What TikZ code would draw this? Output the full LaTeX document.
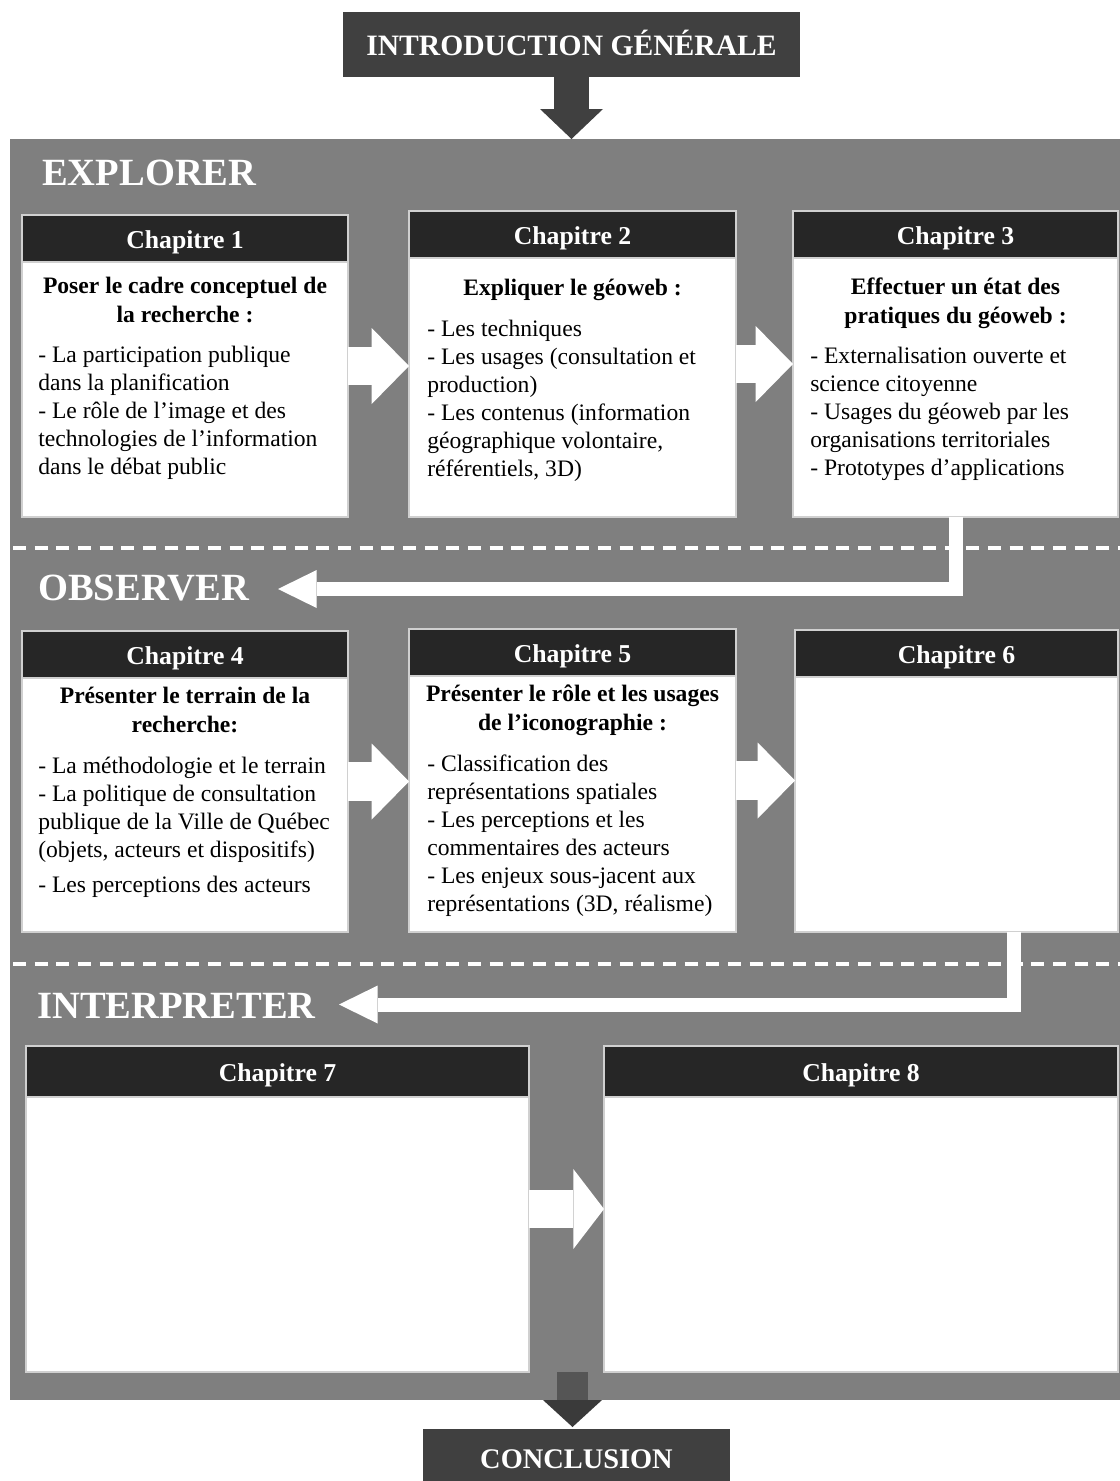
\documentclass[tikz,border=0pt]{standalone}
\usepackage{fontspec}
\setmainfont{Liberation Serif}
\usetikzlibrary{arrows.meta,fit,calc}
\definecolor{panelgray}{HTML}{7F7F7F}
\definecolor{hdrdark}{HTML}{262626}
\definecolor{introdark}{HTML}{404040}
\definecolor{boxline}{HTML}{D0D0D0}
\definecolor{stemdark}{HTML}{555555}
\definecolor{headdark}{HTML}{3A3A3A}
\tikzset{
  area/.style={inner sep=0pt, outer sep=0pt},
  chbox/.style={area, fill=white, draw=boxline, line width=0.9pt},
  chhead/.style={area, fill=hdrdark, draw=boxline, line width=0.9pt},
  chlabel/.style={text=white, font=\bfseries\fontsize{19.3}{23}\selectfont, inner sep=0pt, anchor=base, yshift=-7.3pt},
  chtitle/.style={align=center, font=\bfseries\fontsize{17.7}{21.3}\selectfont, inner sep=0pt, anchor=base},
  chbody/.style={align=left, font=\fontsize{17.7}{21}\selectfont, inner sep=0pt, anchor=base west},
  section/.style={text=white, font=\bfseries\fontsize{28.9}{34}\selectfont, inner sep=0pt, anchor=base west},
  endlabel/.style={text=white, font=\bfseries\fontsize{22.2}{26}\selectfont, inner sep=0pt, anchor=base},
  flowarrow/.style={white, line width=29pt, -{Triangle[length=28pt, width=57pt, line width=0pt]}},
  returnarrow/.style={white, line width=10.5pt, -{Triangle[length=29pt, width=28.5pt, line width=0pt]}},
  sepline/.style={white, line width=3pt, dash pattern=on 9.75pt off 6.5pt},
}
\begin{document}
\begin{tikzpicture}[x=0.75pt, y=-0.75pt]
\useasboundingbox (0,0) rectangle (1120,1481);

% background panel
\node[area, fill=panelgray, fit={(10,139)(1120,1400)}] (panel) {};

% separators
\draw[sepline] (13,548) -- (1120,548);
\draw[sepline] (13,964) -- (1120,964);

% introduction / conclusion
\node[area, fill=introdark, fit={(343,12)(800,77)}] (intro) {};
\node[endlabel] (introtext) at (571.5,55) {INTRODUCTION GÉNÉRALE};
\node[area, fill=introdark, fit={(423,1429)(730,1495)}] (concl) {};
\node[endlabel, font=\bfseries\fontsize{21.3}{25}\selectfont] (concltext) at (576.5,1468) {CONCLUSION};

% chapter boxes
\node[chbox, fit={(22,215)(348,517)}] (ch1) {};
\node[chhead, fit={(22,215)(348,262)}] (h1) {};
\node[chbox, fit={(409,211)(736,517)}] (ch2) {};
\node[chhead, fit={(409,211)(736,258)}] (h2) {};
\node[chbox, fit={(793,211)(1118,517)}] (ch3) {};
\node[chhead, fit={(793,211)(1118,258)}] (h3) {};
\node[chbox, fit={(22,631)(348,932)}] (ch4) {};
\node[chhead, fit={(22,631)(348,678)}] (h4) {};
\node[chbox, fit={(409,629)(736,932)}] (ch5) {};
\node[chhead, fit={(409,629)(736,676)}] (h5) {};
\node[chbox, fit={(795,630)(1118,932)}] (ch6) {};
\node[chhead, fit={(795,630)(1118,677)}] (h6) {};
\node[chbox, fit={(26,1046)(529,1372)}] (ch7) {};
\node[chhead, fit={(26,1046)(529,1097)}] (h7) {};
\node[chbox, fit={(604,1046)(1118,1372)}] (ch8) {};
\node[chhead, fit={(604,1046)(1118,1097)}] (h8) {};

\node[chlabel] (l1) at (h1.center) {Chapitre 1};
\node[chlabel] (l2) at (h2.center) {Chapitre 2};
\node[chlabel] (l3) at (h3.center) {Chapitre 3};
\node[chlabel] (l4) at (h4.center) {Chapitre 4};
\node[chlabel] (l5) at (h5.center) {Chapitre 5};
\node[chlabel] (l6) at (h6.center) {Chapitre 6};
\node[chlabel] (l7) at (h7.center) {Chapitre 7};
\node[chlabel] (l8) at (h8.center) {Chapitre 8};

% chapter contents (anchored at the baseline of their last line)
\node[chtitle] (t1) at (185,322) {Poser le cadre conceptuel de\\la recherche :};
\node[chbody] (b1) at (38,474) {- La participation publique\\dans la planification\\- Le rôle de l’image et des\\technologies de l’information\\dans le débat public};

\node[chtitle] (t2) at (572.5,295) {Expliquer le géoweb :};
\node[chbody] (b2) at (427,476) {- Les techniques\\- Les usages (consultation et\\production)\\- Les contenus (information\\géographique volontaire,\\référentiels, 3D)};

\node[chtitle] (t3) at (955.5,323) {Effectuer un état des\\pratiques du géoweb :};
\node[chbody] (b3) at (810,475) {- Externalisation ouverte et\\science citoyenne\\- Usages du géoweb par les\\organisations territoriales\\- Prototypes d’applications};

\node[chtitle] (t4) at (185,732) {Présenter le terrain de la\\recherche:};
\node[chbody] (b4) at (38,892) {- La méthodologie et le terrain\\- La politique de consultation\\publique de la Ville de Québec\\(objets, acteurs et dispositifs)\\[5.25pt]- Les perceptions des acteurs};

\node[chtitle] (t5) at (572.5,730) {Présenter le rôle et les usages\\de l’iconographie :};
\node[chbody] (b5) at (427,911) {- Classification des\\représentations spatiales\\- Les perceptions et les\\commentaires des acteurs\\- Les enjeux sous-jacent aux\\représentations (3D, réalisme)};

% flow arrows between chapters
\draw[flowarrow] (ch1.east) -- (ch1.east -| ch2.west);
\draw[flowarrow] (ch2.east) -- (ch2.east -| ch3.west);
\draw[flowarrow] (ch4.east) -- (ch4.east -| ch5.west);
\draw[flowarrow] (ch5.east) -- (ch5.east -| ch6.west);
\draw[white, line width=28.5pt, -{Triangle[length=23pt, width=60pt, line width=0pt]}] (ch7.east) -- (ch7.east -| ch8.west);

% return arrows
\coordinate (obsTip) at (278,589);
\draw[returnarrow] (ch3.south) |- (obsTip);
\coordinate (ch6out) at (1014,932);
\coordinate (intTip) at (339,1004.5);
\draw[returnarrow] (ch6out) |- (intTip);

% section labels
\node[section] (explorer) at (42,185) {EXPLORER};
\node[section] (observer) at (38,600) {OBSERVER};
\node[section] (interpreter) at (37,1018) {INTERPRETER};

% entry and exit arrows
\draw[introdark, line width=26.25pt, -{Triangle[length=22.5pt, width=47.25pt, line width=0pt]}] (intro.south) -- (intro.south |- panel.north);
\coordinate (exitStart) at (572.5,1372);
\coordinate (exitTip) at (572.5,1427);
\draw[stemdark, line width=23.25pt, -{Triangle[length=20.25pt, width=44.25pt, line width=0pt, color=headdark, fill=headdark]}] (exitStart) -- (exitTip);
\end{tikzpicture}
\end{document}
